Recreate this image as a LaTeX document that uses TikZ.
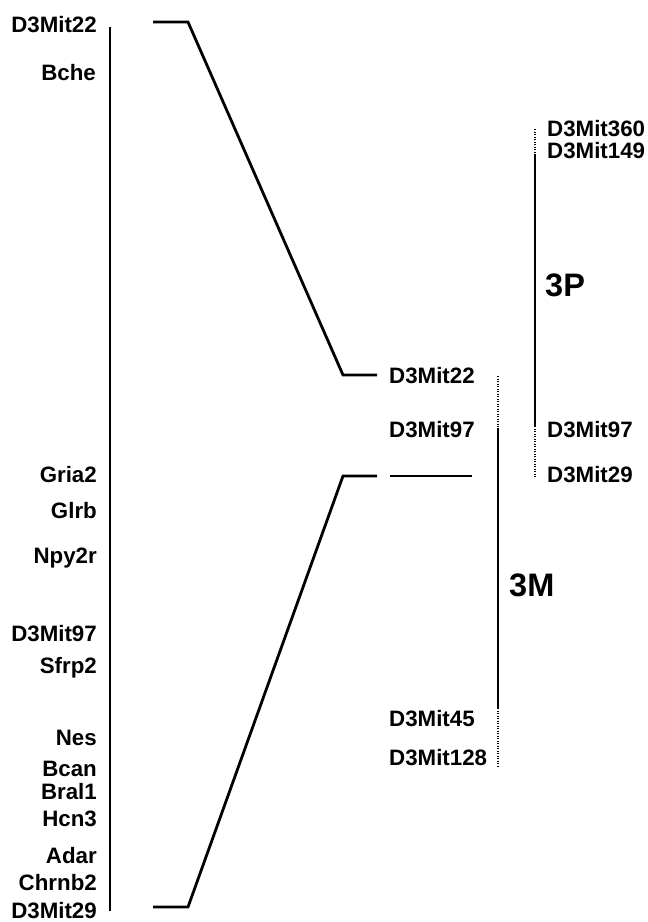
\documentclass[tikz,border=0pt]{standalone}
\usepackage{fontspec}
\setmainfont{Liberation Sans}
\begin{document}
\begin{tikzpicture}[x=1pt,y=-1pt,
  lbl/.style={font=\fontsize{22.3}{24}\selectfont\bfseries,inner sep=0pt},
  lleft/.style={lbl,anchor=base east},
  lright/.style={lbl,anchor=base west},
  big/.style={font=\fontsize{32.5}{36}\selectfont\bfseries,inner sep=0pt,anchor=base west},
  chrom/.style={line width=2.8pt},
  dotchrom/.style={line width=2.8pt,dash pattern=on 1.4pt off 1.1pt},
  conn/.style={line width=2.8pt,line join=miter}]
\useasboundingbox (0,0) rectangle (648,922);
% left chromosome
\coordinate (LT) at (110,27);
\coordinate (LB) at (110,911);
\draw[chrom] (LT) -- (LB);
% left labels
\node[lleft] (l1) at (97,32) {D3Mit22};
\node[lleft] (l2) at (96,80) {Bche};
\node[lleft] (l3) at (97,482) {Gria2};
\node[lleft] (l4) at (97,518) {Glrb};
\node[lleft] (l5) at (97,563) {Npy2r};
\node[lleft] (l6) at (97,641) {D3Mit97};
\node[lleft] (l7) at (97,673) {Sfrp2};
\node[lleft] (l8) at (97,745) {Nes};
\node[lleft] (l9) at (97,776) {Bcan};
\node[lleft] (l10) at (97,799) {Bral1};
\node[lleft] (l11) at (97,826) {Hcn3};
\node[lleft] (l12) at (97,863) {Adar};
\node[lleft] (l13) at (97,890) {Chrnb2};
\node[lleft] (l14) at (97,918) {D3Mit29};
% middle labels
\node[lright] (m1) at (389,383) {D3Mit22};
\node[lright] (m2) at (389,437) {D3Mit97};
\node[lright] (m3) at (389,726) {D3Mit45};
\node[lright] (m4) at (389,765) {D3Mit128};
% right labels
\node[lright] (r1) at (547,136) {D3Mit360};
\node[lright] (r2) at (547,158) {D3Mit149};
\node[lright] (r3) at (547,437) {D3Mit97};
\node[lright] (r4) at (547,482) {D3Mit29};
\node[big] (p3) at (545,296) {3P};
\node[big] (m3m) at (509,596) {3M};
% connectors
\coordinate (a1) at (153,22);
\coordinate (a2) at (188,22);
\coordinate (a3) at (343,375);
\coordinate (a4) at (377,375);
\draw[conn] (a1) -- (a2) -- (a3) -- (a4);
\coordinate (b1) at (153,907);
\coordinate (b2) at (188,907);
\coordinate (b3) at (343,476);
\coordinate (b4) at (377,476);
\draw[conn] (b1) -- (b2) -- (b3) -- (b4);
\coordinate (c1) at (390,476);
\coordinate (c2) at (472,476);
\draw[conn] (c1) -- (c2);
% middle chromosome 3M
\coordinate (M0) at (498,376);
\coordinate (M1) at (498,428);
\coordinate (M2) at (498,708);
\coordinate (M3) at (498,767);
\draw[dotchrom] (M0) -- (M1);
\draw[chrom] (M1) -- (M2);
\draw[dotchrom] (M2) -- (M3);
% right chromosome 3P
\coordinate (P0) at (535,129);
\coordinate (P1) at (535,155);
\coordinate (P2) at (535,426);
\coordinate (P3) at (535,478);
\draw[dotchrom] (P0) -- (P1);
\draw[chrom] (P1) -- (P2);
\draw[dotchrom] (P2) -- (P3);
\end{tikzpicture}
\end{document}
